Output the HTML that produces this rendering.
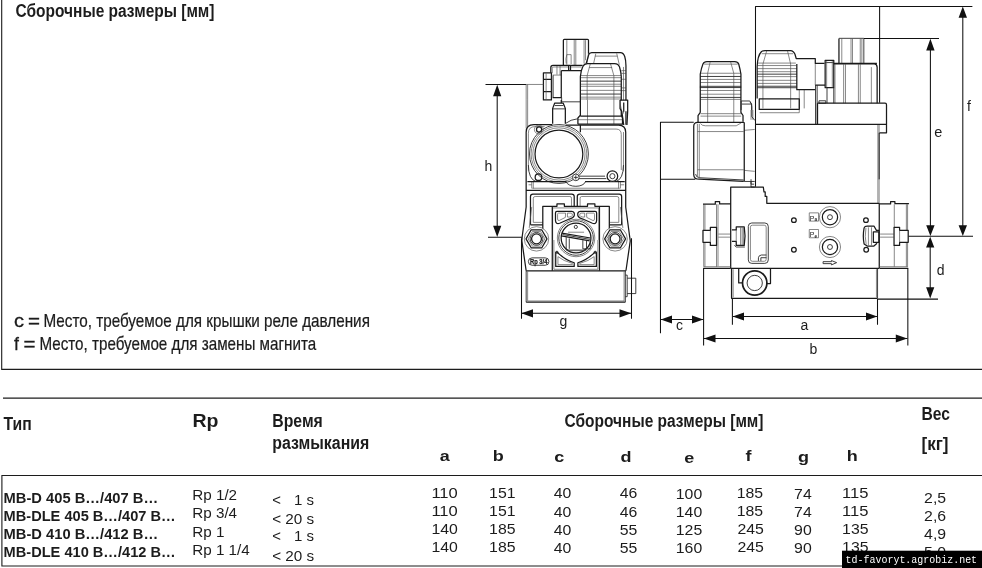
<!DOCTYPE html>
<html><head><meta charset="utf-8">
<style>
html,body{margin:0;padding:0;background:#fff;}
body{width:982px;height:568px;overflow:hidden;font-family:"Liberation Sans",sans-serif;}
svg{display:block;filter:grayscale(1);}
text{font-family:"Liberation Sans",sans-serif;fill:#1c1c1c;}
.b{font-weight:bold;}

.m{font-family:"Liberation Mono",monospace;}
.k,.g,.t,.d{fill:none;vector-effect:non-scaling-stroke;stroke-linejoin:round;stroke-linecap:butt;}
.k{stroke:#1a1a1a;stroke-width:1.25;}
.t{stroke:#2a2a2a;stroke-width:.9;}
.g{stroke:#555;stroke-width:.7;}
.d{stroke:#111;stroke-width:1.05;}
.a{fill:#111;stroke:none;}
.w{fill:#fff;}
</style></head><body>
<svg width="982" height="568" viewBox="0 0 982 568">
<rect width="982" height="568" fill="#fff"/>
<!-- FRAME -->
<g id="frame" stroke="#1c1c1c" stroke-width="1.1" fill="none">
<path d="M1.7 0V369.4H982"/>
<path d="M3 398.1H982"/>
<path d="M982 475.5H1.9V566H982"/>
</g>
<!-- TEXT -->
<g id="txt">
<text class="b" x="15.5" y="17.3" font-size="18.3" textLength="199" lengthAdjust="spacingAndGlyphs">Сборочные размеры [мм]</text>
<g font-size="17.7" style="stroke:#1c1c1c;stroke-width:.22px">
<text x="14.1" y="326.9" textLength="10" lengthAdjust="spacingAndGlyphs" style="stroke-width:.3px">c</text><text x="27.9" y="326.9" textLength="12" lengthAdjust="spacingAndGlyphs" style="stroke-width:.35px">=</text><text x="43.4" y="326.9" textLength="326.5" lengthAdjust="spacingAndGlyphs">Место, требуемое для крышки реле давления</text>
<text x="14" y="349.6" style="stroke-width:.3px">f</text><text x="23.5" y="349.6" textLength="12" lengthAdjust="spacingAndGlyphs" style="stroke-width:.35px">=</text><text x="39.4" y="349.6" textLength="276.8" lengthAdjust="spacingAndGlyphs">Место, требуемое для замены магнита</text>
</g>
<text class="b" x="3.6" y="429.9" font-size="19" textLength="28.2" lengthAdjust="spacingAndGlyphs">Тип</text>
<text class="b" x="192.4" y="426.6" font-size="18.2" textLength="26" lengthAdjust="spacingAndGlyphs">Rp</text>
<text class="b" x="272.3" y="426.6" font-size="18.3" textLength="50.5" lengthAdjust="spacingAndGlyphs">Время</text>
<text class="b" x="272.3" y="449.4" font-size="18.3" textLength="97" lengthAdjust="spacingAndGlyphs">размыкания</text>
<text class="b" x="564.5" y="426.7" font-size="18.3" textLength="199" lengthAdjust="spacingAndGlyphs">Сборочные размеры [мм]</text>
<text class="b" x="921.5" y="420.3" font-size="18.3" textLength="28.5" lengthAdjust="spacingAndGlyphs">Вес</text>
<text class="b" x="921.5" y="450" font-size="18.3" textLength="27" lengthAdjust="spacingAndGlyphs">[кг]</text>
<g class="b" font-size="15.4">
<text x="439.8" y="460.6" textLength="10.0" lengthAdjust="spacingAndGlyphs">a</text><text x="492.8" y="460.6" textLength="11.0" lengthAdjust="spacingAndGlyphs">b</text><text x="554.2" y="462" textLength="10.0" lengthAdjust="spacingAndGlyphs">c</text><text x="620.6" y="462" textLength="11.0" lengthAdjust="spacingAndGlyphs">d</text><text x="684.2" y="463" textLength="10.0" lengthAdjust="spacingAndGlyphs">e</text><text x="745.6" y="461" textLength="6.0" lengthAdjust="spacingAndGlyphs">f</text><text x="797.9" y="461.9" textLength="11.0" lengthAdjust="spacingAndGlyphs">g</text><text x="846.8" y="461" textLength="11.0" lengthAdjust="spacingAndGlyphs">h</text>
</g>
<g class="b" font-size="14">
<text x="3.6" y="502.9" textLength="154.5" lengthAdjust="spacingAndGlyphs">MB-D 405 B…/407 B…</text>
<text x="3.6" y="520.7" textLength="172" lengthAdjust="spacingAndGlyphs">MB-DLE 405 B…/407 B…</text>
<text x="3.6" y="538.7" textLength="154.5" lengthAdjust="spacingAndGlyphs">MB-D 410 B…/412 B…</text>
<text x="3.6" y="557" textLength="172" lengthAdjust="spacingAndGlyphs">MB-DLE 410 B…/412 B…</text>
</g>
<g font-size="14">
<text x="192.2" y="500" textLength="44.9" lengthAdjust="spacingAndGlyphs">Rp 1/2</text><text x="192.2" y="517.9" textLength="44.9" lengthAdjust="spacingAndGlyphs">Rp 3/4</text><text x="192.2" y="536.7" textLength="32.2" lengthAdjust="spacingAndGlyphs">Rp 1</text><text x="192.2" y="554.5" textLength="57.6" lengthAdjust="spacingAndGlyphs">Rp 1 1/4</text>
<text x="272.2" y="505.2" textLength="8.7" lengthAdjust="spacingAndGlyphs">&lt;</text><text x="294" y="505.2" textLength="20" lengthAdjust="spacingAndGlyphs">1 s</text>
<text x="272.2" y="524" textLength="42" lengthAdjust="spacingAndGlyphs">&lt; 20 s</text>
<text x="272.2" y="541.1" textLength="8.7" lengthAdjust="spacingAndGlyphs">&lt;</text><text x="294" y="541.1" textLength="20" lengthAdjust="spacingAndGlyphs">1 s</text>
<text x="272.2" y="560.6" textLength="42" lengthAdjust="spacingAndGlyphs">&lt; 20 s</text>
</g>
<g class="n" font-size="14">
<text x="431.4" y="497.6" textLength="26.4" lengthAdjust="spacingAndGlyphs">110</text>
<text x="431.4" y="515.9" textLength="26.4" lengthAdjust="spacingAndGlyphs">110</text>
<text x="431.4" y="533.7" textLength="26.4" lengthAdjust="spacingAndGlyphs">140</text>
<text x="431.4" y="552.0" textLength="26.4" lengthAdjust="spacingAndGlyphs">140</text>
<text x="489.1" y="497.6" textLength="26.4" lengthAdjust="spacingAndGlyphs">151</text>
<text x="489.1" y="515.9" textLength="26.4" lengthAdjust="spacingAndGlyphs">151</text>
<text x="489.1" y="533.7" textLength="26.4" lengthAdjust="spacingAndGlyphs">185</text>
<text x="489.1" y="552.0" textLength="26.4" lengthAdjust="spacingAndGlyphs">185</text>
<text x="553.8" y="498.0" textLength="17.6" lengthAdjust="spacingAndGlyphs">40</text>
<text x="553.8" y="516.6" textLength="17.6" lengthAdjust="spacingAndGlyphs">40</text>
<text x="553.8" y="534.7" textLength="17.6" lengthAdjust="spacingAndGlyphs">40</text>
<text x="553.8" y="552.5" textLength="17.6" lengthAdjust="spacingAndGlyphs">40</text>
<text x="619.8" y="498.0" textLength="17.6" lengthAdjust="spacingAndGlyphs">46</text>
<text x="619.8" y="516.6" textLength="17.6" lengthAdjust="spacingAndGlyphs">46</text>
<text x="619.8" y="534.7" textLength="17.6" lengthAdjust="spacingAndGlyphs">55</text>
<text x="619.8" y="552.5" textLength="17.6" lengthAdjust="spacingAndGlyphs">55</text>
<text x="675.8" y="498.8" textLength="26.4" lengthAdjust="spacingAndGlyphs">100</text>
<text x="675.8" y="517.1" textLength="26.4" lengthAdjust="spacingAndGlyphs">140</text>
<text x="675.8" y="535.4" textLength="26.4" lengthAdjust="spacingAndGlyphs">125</text>
<text x="675.8" y="553.3" textLength="26.4" lengthAdjust="spacingAndGlyphs">160</text>
<text x="736.7" y="497.6" textLength="26.4" lengthAdjust="spacingAndGlyphs">185</text>
<text x="736.7" y="515.9" textLength="26.4" lengthAdjust="spacingAndGlyphs">185</text>
<text x="737.4" y="533.7" textLength="26.4" lengthAdjust="spacingAndGlyphs">245</text>
<text x="737.4" y="552.0" textLength="26.4" lengthAdjust="spacingAndGlyphs">245</text>
<text x="794.1" y="498.8" textLength="17.6" lengthAdjust="spacingAndGlyphs">74</text>
<text x="794.1" y="517.1" textLength="17.6" lengthAdjust="spacingAndGlyphs">74</text>
<text x="794.1" y="535.4" textLength="17.6" lengthAdjust="spacingAndGlyphs">90</text>
<text x="794.1" y="553.3" textLength="17.6" lengthAdjust="spacingAndGlyphs">90</text>
<text x="842.1" y="497.6" textLength="26.4" lengthAdjust="spacingAndGlyphs">115</text>
<text x="842.1" y="515.7" textLength="26.4" lengthAdjust="spacingAndGlyphs">115</text>
<text x="842.1" y="533.8" textLength="26.4" lengthAdjust="spacingAndGlyphs">135</text>
<text x="842.1" y="551.5" textLength="26.4" lengthAdjust="spacingAndGlyphs">135</text>
<text x="924.1" y="502.8" textLength="22.0" lengthAdjust="spacingAndGlyphs">2,5</text>
<text x="924.1" y="520.9" textLength="22.0" lengthAdjust="spacingAndGlyphs">2,6</text>
<text x="924.1" y="538.7" textLength="22.0" lengthAdjust="spacingAndGlyphs">4,9</text>
<text x="924.1" y="556.8" textLength="22.0" lengthAdjust="spacingAndGlyphs">5,0</text>
</g>
<!-- WATERMARK -->
<rect x="842" y="550.7" width="140" height="18" fill="#000"/>
<text class="m" x="845.6" y="563.3" font-size="11.2" textLength="131.5" lengthAdjust="spacingAndGlyphs" style="fill:#fff">td-favoryt.agrobiz.net</text>
</g>
<!-- DRAWING -->
<!-- A_left_top.svg -->
<g transform="translate(520,30) scale(0.1232)">
<!-- cap -->
<path class="g" d="M380 82V282M440 80V286M453 80V286M520 82V272M532 82V245M375 272Q368 232 380 200H415V276M556 190L545 266"/>
<path class="k" d="M352 286V84Q352 76 360 76H548Q556 76 556 84V192"/>
<!-- elbow -->
<path class="g" d="M262 350V310Q262 300 275 300H395M410 300H500M300 292V362M325 292V366M265 366H335M272 366V548"/>
<path class="k" d="M250 348V306Q250 288 268 288H508M335 330H498M335 330V548H265M395 290V330M410 290V330"/>
<path class="t" d="M338 548V583H488"/>
<!-- nut -->
<path class="k" d="M190 348H255V568H190ZM190 400H255M190 500H255"/>
<path class="g" d="M212 352V566M262 370V548"/>
<!-- h extension -->
<path class="d" d="M-280 442H50"/>
<path class="g" d="M50 442H190M50 442V568M62 442V568"/>
<!-- rear plug -->
<path class="g" d="M615 192L598 270M785 190L806 282M608 212H790M822 330H858M822 352H858M822 400H858M822 470H858M822 492H858M840 300V568"/>
<path class="k" d="M538 270L558 200Q563 183 582 183H815Q840 183 850 215Q860 245 860 290V568"/>
<!-- front plug -->
<path class="g" d="M570 276L545 370V568M735 276L762 370V568M560 305H748M490 370H822M490 387H822M490 440H822M490 457H822M490 490H822M490 545H822M490 560H822"/>
<path class="k" d="M490 568V378Q494 330 510 296Q520 272 548 272H768Q798 272 808 300Q820 340 822 378V568"/>
<path class="t" d="M490 415H822M490 520H822"/>
</g>
<!-- B_left_mid.svg -->
<g transform="translate(520,100) scale(0.1232)">
<path class="g" d="M50 0V230M62 0V215"/>
<!-- plugs continuing -->
<path class="g" d="M548 0V195M762 0V195M840 0V110M470 160H832"/>
<path class="k" d="M490 0V122L470 146V196M822 0V122L832 148V196M490 130H822M470 196H836M860 0V200"/>
<path class="w" d="M814 2H872V92H826Z"/><path class="k" d="M812 0H874V92L868 203M812 0V70L826 92L842 203M842 20V95"/>
<!-- small fitting -->
<path class="k" d="M265 192V68L282 25H350L368 68V192M335 0V22"/>
<path class="t" d="M282 45H352M268 72H366M370 190Q410 158 470 152"/>
<!-- housing -->
<path class="k" d="M50 568V262Q50 200 112 200H262M372 204H800Q858 204 858 262V568M490 204V262"/>
<path class="g" d="M68 568V270Q68 216 122 216H200M490 236H780Q822 236 822 280V568M840 260V568"/>
<!-- big circle -->
<circle class="t" cx="316" cy="438" r="239"/>
<circle class="g" cx="316" cy="438" r="226"/>
<circle class="g" cx="316" cy="438" r="212"/>
<circle class="k" cx="316" cy="438" r="194"/>
<!-- screw -->
<circle class="g" cx="153" cy="240" r="36"/>
<circle class="k" cx="155" cy="240" r="21"/>
</g>
<!-- C_left_flange.svg -->
<g transform="translate(520,170) scale(0.1232)">
<path class="t" d="M68 -40Q70 75 128 93M840 -40Q838 75 780 93"/>
<path class="g" d="M68 0V10M840 0V10M100 148H810M95 97V150M108 97V150M800 97V150M815 97V150M70 120H95M815 120H845"/>
<path class="k" d="M50 0V300M858 0V300M60 95H378M528 95H850M50 165H858"/>
<path class="t" d="M376 97A78 42 0 0 0 530 97M470 70H700M480 50H690"/>
<circle class="w" cx="750" cy="50" r="45"/><circle class="k" cx="750" cy="50" r="43"/><circle class="t" cx="750" cy="50" r="21"/>
<circle class="w" cx="453" cy="60" r="27"/><circle class="t" cx="453" cy="60" r="27"/><path class="t" d="M436 60H470M453 43V77"/>
<circle class="k" cx="150" cy="58" r="27"/>
<!-- two rounded rects -->
<path class="k" d="M85 445V215Q85 195 105 195H420Q440 195 440 215V292M825 445V215Q825 195 805 195H485Q465 195 465 215V292M85 445H185M825 445H725"/>
<path class="g" d="M108 425V230Q108 215 123 215H405Q418 215 418 230V292M802 425V230Q802 215 787 215H500Q488 215 488 230V292M108 425H185M802 425H725"/>
<!-- flange sides -->
<path class="k" d="M50 300L18 540L15 575L50 818M858 300L890 540L895 575L860 818"/>
<path class="g" d="M95 300L75 470M815 300L835 470"/>
<!-- centre block -->
<path class="g" d="M265 568V308H640V568M275 568V806H632V568"/>
<path class="k" d="M185 480V295H300V275H360V295H548V275H608V295H725V480M262 300V818M645 300V818"/>
<!-- top slots -->
<path class="k" d="M300 335H420Q447 338 440 372Q432 392 400 398L322 432Q290 442 288 410V350Q288 335 300 335Z"/><path class="g" d="M312 350H370L368 385L318 410Q305 412 305 398V362Q305 350 312 350ZM385 350H415Q428 352 425 368Q420 380 400 382H385Z"/>
<path class="k" d="M 610.0 335 H 490.0 Q 463.0 338 470.0 372 Q 478.0 392 510.0 398 L 588.0 432 Q 620.0 442 622.0 410 V 350 Q 622.0 335 610.0 335 Z"/><path class="g" d="M 598.0 350 H 540.0 L 542.0 385 L 592.0 410 Q 605.0 412 605.0 398 V 362 Q 605.0 350 598.0 350 Z M 525.0 350 H 495.0 Q 482.0 352 485.0 368 Q 490.0 380 510.0 382 H 525.0 Z"/>
<!-- bottom slots -->
<g transform="translate(0,568)"><path class="k" d="M290 100V215H440V185Q360 160 300 96Z"/><path class="g" d="M308 135V200H425V190Q350 170 308 135Z"/>
<path class="k" d="M 620.0 100 V 215 H 470.0 V 185 Q 550.0 160 610.0 96 Z"/><path class="g" d="M 602.0 135 V 200 H 485.0 V 190 Q 560.0 170 602.0 135 Z"/>
<circle class="t" cx="300" cy="100" r="9"/><circle class="t" cx="610" cy="100" r="9"/></g>
<!-- central circle -->
<circle class="w" cx="455" cy="552" r="150"/>
<circle class="g" cx="455" cy="552" r="152"/>
<circle class="t" cx="455" cy="552" r="140"/>
<circle class="k" cx="455" cy="552" r="121"/>
<circle class="t" cx="453" cy="462" r="13"/>
<path class="k" d="M340 512L572 552M335 535L566 575"/>
<path class="t" d="M345 524L568 563M375 545V650H540M400 555V640M510 570V640H570V580M540 575V640"/>
<path class="g" d="M390 505H520M385 655H530"/>
<!-- hex nuts -->
<g><circle class="w" cx="134" cy="559" r="98"/><circle class="g" cx="134" cy="559" r="99"/><polygon class="k" points="219,559 176,633 92,633 49,559 91,485 176,485"/><polygon class="g" points="202,559 168,618 100,618 66,559 100,500 168,500"/><circle class="t" cx="134" cy="559" r="52"/><circle class="k" cx="134" cy="559" r="40"/></g>
<g><circle class="w" cx="772" cy="559" r="98"/><circle class="g" cx="772" cy="559" r="99"/><polygon class="k" points="857,559 814,633 730,633 687,559 730,485 814,485"/><polygon class="g" points="840,559 806,618 738,618 704,559 738,500 806,500"/><circle class="t" cx="772" cy="559" r="52"/><circle class="k" cx="772" cy="559" r="40"/></g>
</g>
<!-- D_left_bottom.svg -->
<g transform="translate(520,240) scale(0.1232)">
<path class="k" d="M50 250H860M50 505H855"/>
<path class="t" d="M50 250V505M855 250V505M855 285H870V460H855M870 310H940V435H870"/>
<path class="g" d="M62 255V495H845V255"/>
<path class="d" d="M12.2 -15V640M905 -15V640"/>
<rect class="t" x="68" y="145" width="167" height="60" rx="30" ry="30"/>
</g>
<text class="b" style="stroke:#1c1c1c;stroke-width:.25px" x="530" y="264.4" font-size="7" textLength="17.4" lengthAdjust="spacingAndGlyphs">Rp 3/4</text>
<!-- E_left_dims.svg -->
<g>
<path class="d" d="M497.2 90V232M488 237.2H522M521.4 313.3H631"/>
<path class="a" d="M497.2 84.8L493.1 96.2H501.3ZM497.2 237L493.1 225.8H501.3ZM521.4 313.3L533 309.2V317.4ZM631.2 313.3L619.5 309.2V317.4Z"/>
<text x="484.4" y="170.8" font-size="14">h</text>
<text x="559.5" y="326.2" font-size="14">g</text>
</g>
<!-- F_right_plug1.svg -->
<g transform="translate(650,40) scale(0.1232)">
<!-- left plug -->
<path class="g" d="M488 180L468 270V668M655 180L680 270V668M440 196H712M408 270H738M408 320H738M408 345H738M408 410H738M408 440H738M408 482H738M410 598H740M410 618H740"/>
<path class="t" d="M408 296H738M408 466H738M405 376H740M405 386H740"/>
<path class="k" d="M408 588V276Q416 230 430 195Q438 175 462 175H688Q712 175 720 195Q732 240 738 276V588L755 613V663M408 588L390 613V668"/>
<!-- small piece right of plug -->
<path class="t" d="M740 568V495H810L825 522V568M745 520H822"/>
</g>
<g transform="translate(650,110) scale(0.1232)">
<!-- c box -->
<path class="d" d="M355 100H85V1812M85 562H368"/>
<!-- coil housing -->
<path class="g" d="M385 112V540M400 112V545M385 175H760M385 485H760M410 110Q420 128 450 128H700L740 105M765 165L850 158M765 490L850 498M820 0V80M835 0V80"/>
<path class="k" d="M355 525V132Q355 100 387 100H762M355 525Q356 562 400 562L760 580M765 100V580"/>
<path class="t" d="M370 520Q372 548 405 550L760 568M765 580H850M820 580V625H850"/>
</g>
<!-- G_right_top.svg -->
<g transform="translate(750,0) scale(0.1232)">
<!-- f box -->
<path class="d" d="M44.6 1515V52.2H1805M1052 52.2V834"/>
<!-- 2nd plug -->
<path class="g" d="M135 415L105 520V880M305 415L330 520V880M95 436H350M60 512H372M60 532H375M58 557H380M58 582H380M58 622H380M58 652H380M58 677H380M400 730V880M440 730V880M530 520V690"/>
<path class="t" d="M58 602H380M58 700H380M58 712H380"/>
<path class="k" d="M58 800V540Q62 450 92 420Q102 410 122 410H328Q355 412 365 440L375 475H530V515H605M380 520V728H530M75 803H400V888H75ZM530 690H610"/>
<path class="g" d="M78 915H400V888"/>
<path class="t" d="M532 690V1008M545 690V1008"/>
<!-- nut -->
<path class="k" d="M610 490H680V712H610Z"/>
<path class="t" d="M610 508H680M625 712V838M680 712V838M560 818H615V838H560Z"/>
<path class="g" d="M622 495V710M668 495V710"/>
<!-- cap -->
<path class="g" d="M745 315V512M820 315V512M832 315V512M895 315V512M908 315V512"/>
<path class="k" d="M722 515V312M680 515H1030"/>
<path class="t" d="M722 311H924V515"/>
<!-- right coil -->
<path class="g" d="M690 522V838M760 522V838M775 522V838M880 522V838M895 522V838M985 545V838"/>
<path class="k" d="M680 518H1010Q1030 520 1032 545V838"/>
<!-- platform -->
<path class="k" d="M548 838V1009M548 838H1096Q1108 838 1108 850V1078H1050M1048 1078V1457"/>
<path class="g" d="M1038 1010V1650M1048 1457V1650M1048 1010V1078"/>
<!-- main body top -->
<path class="k" d="M43 1009H1108"/>
<!-- bits of plug 1 -->
<path class="t" d="M0 828Q15 838 15 868V948L40 978"/>
</g>
<!-- K_right_low.svg -->
<g transform="translate(650,170) scale(0.1232)">
<!-- coil bottom right bits -->
<path class="t" d="M820 75V115H845"/>
<!-- main lower body outline -->
<path class="k" d="M655 798V140H920L925 178H935V215H948V270H1860M655 798H1860"/>
<!-- left flange -->
<path class="g" d="M436 280V490M446 280V490M540 278V465M552 278V780M555 520H650M555 545H650M436 590V785M446 590V785M436 785H655M540 612V785"/>
<path class="k" d="M430 278H530V256H565V275H655M430 490H490V465H540V612H490V587H430ZM432 798H655"/>
<path class="g" d="M490 490V587"/>
<!-- b ext -->
<path class="d" d="M435 798V1425"/>
<!-- left inner nut (right of 655) -->
<path class="k" d="M665 487H700V462H765Q778 540 765 612H700V580H665"/>
<path class="g" d="M700 487V580M735 465V610M748 465V610M758 465V610"/>
<path class="t" d="M685 612L700 625H770"/>
<!-- window -->
<rect class="t" x="798" y="430" width="162" height="328" rx="28" ry="28"/>
<rect class="g" x="815" y="448" width="128" height="293" rx="16" ry="16"/>
<path class="t" d="M880 738V712Q882 692 905 690H945M900 738V712H945"/>
<!-- lower body -->
<path class="k" d="M662 800V1042H1847M720 800V917H752M978 800V922H948"/>
<path class="g" d="M675 805V1034M1838 805V1036"/>
<path class="t" d="M1847 800V1042"/>
<circle class="k" cx="850" cy="917" r="99" style="stroke-width:1.7"/><circle class="t" cx="850" cy="917" r="62"/>
</g>
<!-- M_right_ports.svg -->
<g transform="translate(760,170) scale(0.1232)">
<!-- ports -->
<circle class="g" cx="568" cy="383" r="86"/><circle class="k" cx="568" cy="383" r="62"/><circle class="t" cx="568" cy="383" r="20"/>
<circle class="g" cx="568" cy="625" r="86"/><circle class="k" cx="568" cy="625" r="62"/><circle class="t" cx="568" cy="625" r="20"/>
<circle class="k" cx="275" cy="407" r="19"/><circle class="k" cx="860" cy="407" r="19"/>
<circle class="k" cx="275" cy="648" r="19"/><circle class="k" cx="862" cy="648" r="19"/>
<rect class="g" x="400" y="348" width="75" height="67"/><rect class="g" x="400" y="483" width="75" height="67"/>
<path class="t" d="M512 744H580V735L622 752L580 770V760H512Z"/>
<!-- right inner nut -->
<path class="k" d="M845 470Q850 455 870 455H925L945 490H968M845 470Q832 540 845 600L870 617H925L950 595M920 502H965V587H920Z"/>
<path class="g" d="M860 470Q848 540 862 605M880 465V612M905 465V612"/>
<!-- body right edge -->
<path class="k" d="M968 270V798"/>

<!-- right flange -->
<path class="g" d="M1188 278V490M1198 278V490M1090 278V465M975 520H1085M975 545H1085M1188 590V785M1198 590V785M1090 612V785M970 785H1200"/>
<path class="k" d="M968 275H1060V256H1095V272H1205V278M1088 465H1133V490H1203V587H1133V612H1088ZM970 798H1203"/>
<path class="g" d="M1133 490V587"/>
<path class="d" d="M1200 798V1425"/>
</g>
<g style="fill:#333"><text x="809.8" y="220.6" font-size="7.6" textLength="4.6" lengthAdjust="spacingAndGlyphs">P</text><text x="814.4" y="221.2" font-size="4.6" class="b">a</text>
<text x="809.8" y="237.2" font-size="7.6" textLength="4.6" lengthAdjust="spacingAndGlyphs">P</text><text x="814.4" y="237.8" font-size="4.6" class="b">e</text></g>
<!-- Q_right_dims.svg -->
<g>
<!-- e,f,d -->
<path class="d" d="M864 38.4H939M930.4 44V231M962.8 12V231M908.5 236.3H973M930.2 242V293M877.5 299.1H938"/>
<path class="a" d="M930.4 38.8L926.2 50.5H934.6ZM962.8 6.6L958.6 17.8H967ZM930.4 236L926.2 225.2H934.6ZM962.8 236L958.6 225.2H967ZM930.2 236.8L926.1 247.5H934.3ZM930.2 298.6L926.1 287.3H934.3Z"/>
<!-- c, a, b -->
<path class="d" d="M661 319.4H703M703.6 338.5H907.5M732.4 299V324.8M877.5 299V324.8M733 316.5H877"/>
<path class="a" d="M660.7 319.4L672 315.4V323.4ZM703.4 319.4L692 315.4V323.4ZM703.8 338.5L715.5 334.4V342.6ZM907.3 338.5L895.8 334.4V342.6ZM732.6 316.5L744 312.5V320.5ZM877.3 316.5L866 312.5V320.5Z"/>
<text x="676" y="330" font-size="14">c</text>
<text x="800.5" y="330" font-size="14">a</text>
<text x="809.6" y="354.2" font-size="14">b</text>
<text x="934.2" y="137" font-size="14.5">e</text>
<text x="967" y="110.6" font-size="14">f</text>
<text x="936.8" y="274.6" font-size="14">d</text>
</g>
</svg>
</body></html>
